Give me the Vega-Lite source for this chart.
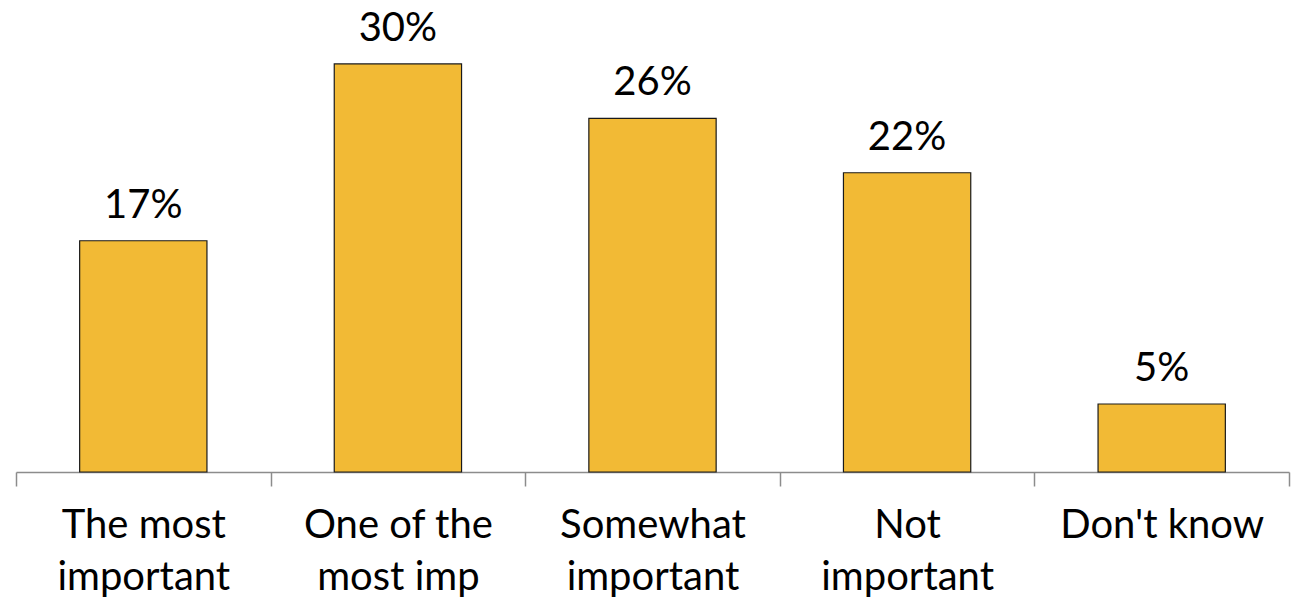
{
  "$schema": "https://vega.github.io/schema/vega-lite/v6.json",
  "width": 1273,
  "height": 472,
  "autosize": {"type": "none"},
  "padding": {"left": 16, "top": 0, "right": 2, "bottom": 131},
  "background": "white",
  "config": {"view": {"stroke": null}, "font": "Lato"},
  "data": {"values": [
    {"cat": "The most|important", "pct": 0.17},
    {"cat": "One of the|most imp", "pct": 0.30},
    {"cat": "Somewhat|important", "pct": 0.26},
    {"cat": "Not|important", "pct": 0.22},
    {"cat": "Don't know", "pct": 0.05}
  ]},
  "encoding": {
    "x": {"field": "cat", "type": "nominal", "sort": null,
      "scale": {"paddingInner": 0, "paddingOuter": 0},
      "axis": {"title": null, "labelAngle": 0, "tickBand": "extent",
        "domainColor": "#8c8c8c", "domainWidth": 1.5, "tickColor": "#8c8c8c", "tickWidth": 1.5, "tickSize": 14,
        "labelFont": "Lato", "labelFontSize": 40, "labelColor": "#000000", "labelPadding": 19, "labelLimit": 0,
        "labelLineHeight": 52, "labelBaseline": "top",
        "labelExpr": "split(datum.label, '|')"}},
    "y": {"field": "pct", "type": "quantitative", "scale": {"domain": [0, 0.347], "nice": false}, "axis": null}
  },
  "layer": [
    {"mark": {"type": "bar", "width": {"band": 0.5}, "color": "#F2BA35", "stroke": "#1a1a1a", "strokeWidth": 1.2}},
    {"mark": {"type": "text", "baseline": "alphabetic", "dy": -23, "fontSize": 40, "font": "Lato", "color": "#000000"},
     "encoding": {"text": {"field": "pct", "type": "quantitative", "format": ".0%"}}}
  ]
}
